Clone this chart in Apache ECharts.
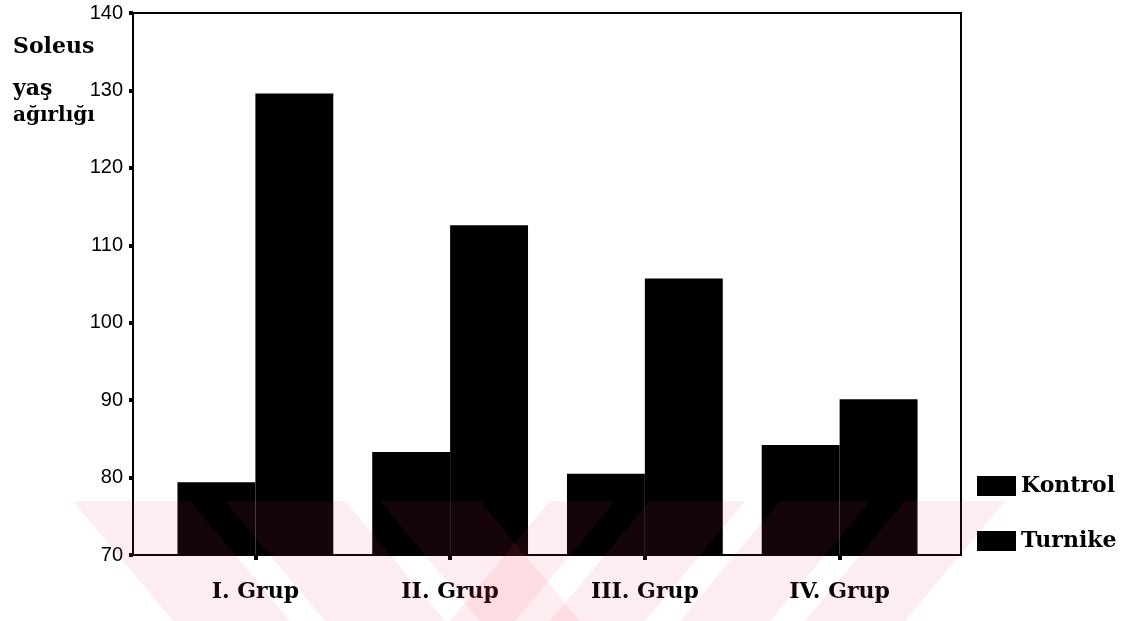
<!DOCTYPE html>
<html>
<head>
<meta charset="utf-8">
<script src="https://cdn.jsdelivr.net/npm/echarts@6/dist/echarts.min.js"></script>
<style>
  html, body { margin: 0; padding: 0; background: #fff; }
  #soleusBar { width: 1134px; height: 621px; }
</style>
</head>
<body>
<div id="soleusBar"></div>
<script>
// gruplar
var categories = ['I. Grup', 'II. Grup', 'III. Grup', 'IV. Grup'];
// soleus yaş ağırlığı
var kontrol = [79.4, 83.3, 80.5, 84.2];
var turnike = [129.6, 112.6, 105.7, 90.1];
var yMin = 70;
var yMax = 140;
var yStep = 10;

var serifBold = { fontFamily: 'DejaVu Serif', fontWeight: 'bold', color: '#000' };

// filigran (watermark) stripes, only decoration
function stripe(x1, x2, dx) {
  var top = 501, bottom = 621;
  return {
    type: 'polygon',
    z: 100,
    silent: true,
    shape: { points: [[x1, top], [x2, top], [x2 + dx, bottom], [x1 + dx, bottom]] },
    style: { fill: 'rgba(240, 60, 90, 0.09)' }
  };
}

var myChart = echarts.init(document.getElementById('soleusBar'));
myChart.setOption({
  animation: false,
  backgroundColor: '#fff',
  grid: [
    { left: 158, right: 197, top: 13, bottom: 66 },
    // çerçeve
    { left: 133, right: 173, top: 13, bottom: 66, show: true, borderColor: '#000', borderWidth: 2, backgroundColor: 'transparent' }
  ],
  legend: {
    orient: 'vertical',
    left: 972,
    top: 470,
    icon: 'rect',
    itemWidth: 39,
    itemHeight: 20,
    itemGap: 33,
    selectedMode: false,
    textStyle: Object.assign({ fontSize: 22 }, serifBold),
    data: ['Kontrol', 'Turnike']
  },
  xAxis: [
    {
      type: 'category',
      data: categories,
      gridIndex: 0,
      axisLine: { show: false },
      axisTick: { show: true, alignWithLabel: true, length: 5, lineStyle: { color: '#000', width: 4 } },
      axisLabel: Object.assign({ fontSize: 22, margin: 26 }, serifBold)
    },
    { type: 'value', gridIndex: 1, show: false }
  ],
  yAxis: [
    {
      type: 'value',
      gridIndex: 0,
      min: yMin,
      max: yMax,
      interval: yStep,
      offset: 25,
      axisLine: { show: true, lineStyle: { color: '#000', width: 2 } },
      axisTick: { show: true, length: 4, lineStyle: { color: '#000', width: 4 } },
      axisLabel: { fontSize: 20, color: '#000', fontFamily: 'Liberation Sans', margin: 10 },
      splitLine: { show: false }
    },
    { type: 'value', gridIndex: 1, show: false }
  ],
  graphic: [
    { type: 'text', left: 13, top: 36, style: Object.assign({ text: 'Soleus', fontSize: 22 }, serifBold, { fill: '#000' }) },
    { type: 'text', left: 13, top: 78, style: Object.assign({ text: 'yaş', fontSize: 22 }, serifBold, { fill: '#000' }) },
    { type: 'text', left: 13, top: 106, style: Object.assign({ text: 'ağırlığı', fontSize: 20 }, serifBold, { fill: '#000' }) },
    stripe(73, 190, 100),
    stripe(225, 345, 100),
    stripe(380, 480, 100),
    stripe(550, 615, -100),
    stripe(650, 745, -100),
    stripe(780, 870, -100),
    stripe(905, 1005, -100)
  ],
  series: [
    {
      name: 'Kontrol',
      type: 'bar',
      data: kontrol,
      barGap: '0%',
      barCategoryGap: '20%',
      itemStyle: { color: '#000' }
    },
    {
      name: 'Turnike',
      type: 'bar',
      data: turnike,
      itemStyle: { color: '#000' }
    }
  ]
});
</script>
</body>
</html>
